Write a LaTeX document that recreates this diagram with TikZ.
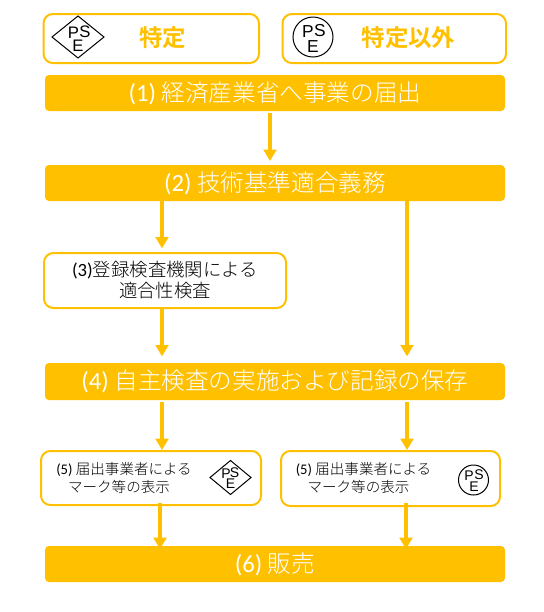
\documentclass[tikz,border=0pt]{standalone}
\usepackage{fontspec}
\setmainfont{Carlito}
\newfontfamily\cjk[UprightFont={* Light},BoldFont={* Bold}]{Noto Sans CJK JP}
\newfontfamily\sansmark{Liberation Sans}
\usetikzlibrary{arrows.meta,calc}
\definecolor{amber}{RGB}{255,192,0}
\newcommand{\fs}[1]{\fontsize{#1}{#1}\selectfont}
\tikzset{
  x=0.75pt,y=-0.75pt,
  banner/.style={fill=amber,draw=none,rounded corners=3pt,text=white,inner sep=0pt},
  outlined/.style={draw=amber,line width=1.5pt,fill=white,rounded corners=7pt,inner sep=0pt},
  flow/.style={draw=amber,line width=3pt,-{Triangle[width=9.5pt,length=8.5pt]}},
  marktxt/.style={inner sep=0pt,font=\sansmark\fs{#1}},
  markline/.style={draw=black,line width=0.75pt,fill=white,inner sep=0pt},
}
\newcommand{\boxat}[6]{% style,name,x0,y0,x1,y1
  \path[#1] (#3,#4) rectangle (#5,#6);
  \coordinate (#2-nw) at (#3,#4);
  \coordinate (#2-se) at (#5,#6);
  \coordinate (#2-n) at ($(#3,#4)!0.5!(#5,#4)$);
  \coordinate (#2-s) at ($(#3,#6)!0.5!(#5,#6)$);
}
\begin{document}
\begin{tikzpicture}
\useasboundingbox (0,0) rectangle (544,612);
% header boxes
\boxat{outlined}{hl}{43.5}{14}{259}{63}
\boxat{outlined}{hr}{282.5}{14}{506}{63}
\node[text=amber,inner sep=0pt,font=\cjk\bfseries\fs{17.6}] (thl) at (162.5,37.5) {特定};
\node[text=amber,inner sep=0pt,font=\cjk\bfseries\fs{17.6}] (thr) at (408.5,37.5) {特定以外};
% banners
\boxat{banner}{n1}{45}{75}{505}{111}
\boxat{banner}{n2}{45}{165}{505}{201}
\boxat{banner}{n4}{45}{363}{505}{400}
\boxat{banner}{n6}{45}{546}{505}{582}
% outlined steps
\boxat{outlined}{n3}{44}{253}{286}{308}
\boxat{outlined}{n5l}{41}{451}{261}{505}
\boxat{outlined}{n5r}{281}{451}{500}{506}
% columns
\coordinate (cc) at (270,0);
\coordinate (cl) at (162,0);
\coordinate (cr) at (407,0);
\coordinate (dl) at (160,0);
\coordinate (dr) at (406,0);
% connectors
\draw[flow,shorten <=1.5pt,shorten >=3pt] (n1-s -| cc) -- (n2-n -| cc);
\draw[flow,shorten >=3.5pt] (n2-s -| cl) -- (n3-n -| cl);
\draw[flow,shorten >=5pt] (n3-s -| cl) -- (n4-n -| cl);
\draw[flow,shorten >=5pt] (n2-s -| cr) -- (n4-n -| cr);
\draw[flow,shorten <=1.5pt,shorten >=0.75pt] (n4-s -| cl) -- (n5l-n -| cl);
\draw[flow,shorten <=1.5pt,shorten >=0.75pt] (n4-s -| cr) -- (n5r-n -| cr);
\draw[flow,shorten <=-1.5pt,shorten >=-2.25pt] (n5l-s -| dl) -- (n6-n -| dl);
\draw[flow,shorten <=-2.25pt,shorten >=-2.25pt] (n5r-s -| dr) -- (n6-n -| dr);
% banner text
\node[text=white,inner sep=0pt,font=\fs{18.5}] (t1) at (275,93) {(1) {\cjk\fs{17.7}経済産業省へ事業の届出}};
\node[text=white,inner sep=0pt,font=\fs{18.5}] (t2) at (275,183) {(2) {\cjk\fs{17.7}技術基準適合義務}};
\node[text=white,inner sep=0pt,font=\fs{18.5}] (t4) at (275,381.5) {(4) {\cjk\fs{17.7}自主検査の実施および記録の保存}};
\node[text=white,inner sep=0pt,font=\fs{18.5}] (t6) at (275,564) {(6) {\cjk\fs{17.7}販売}};
% step text
\node[align=center,inner sep=0pt,font=\fs{14}] (t3) at (165,280) {(3){\cjk\fs{13.8}登録検査機関による}\\[1.5pt]{\cjk\fs{13.8}適合性検査}};
\node[align=center,inner sep=0pt,font=\fs{11}] (t5l) at (124,478) {(5) {\cjk\fs{10.9}届出事業者による}\\[2pt]{\cjk\fs{10.9}マーク等の表示}\hspace*{7.5pt}};
\node[align=center,inner sep=0pt,font=\fs{11}] (t5r) at (363.5,478) {(5) {\cjk\fs{10.9}届出事業者による}\\[2pt]{\cjk\fs{10.9}マーク等の表示}\hspace*{7.5pt}};
% PSE marks
\path[markline] (52,37) -- (78,16) -- (104,37) -- (78,58) -- cycle;
\node[marktxt=12.5] (a1) at (73.5,33) {P};
\node[marktxt=12.5] (a2) at (85,32) {S};
\node[marktxt=12.5] (a3) at (78,45.5) {E};
\path[markline] (313,37) circle[radius=20];
\node[marktxt=13] (b1) at (308,32) {P};
\node[marktxt=13] (b2) at (320,31) {S};
\node[marktxt=13] (b3) at (313,47) {E};
\path[markline] (210,477.5) -- (230.5,460.5) -- (251,477.5) -- (230.5,494.5) -- cycle;
\node[marktxt=10.5] (c1) at (226,473.5) {P};
\node[marktxt=10.5] (c2) at (234.5,472.5) {S};
\node[marktxt=10.5] (c3) at (230.5,484) {E};
\path[markline] (473.5,480) circle[radius=15];
\node[marktxt=10.5] (d1) at (469,476) {P};
\node[marktxt=10.5] (d2) at (479,475) {S};
\node[marktxt=10.5] (d3) at (474,487) {E};
\end{tikzpicture}
\end{document}
